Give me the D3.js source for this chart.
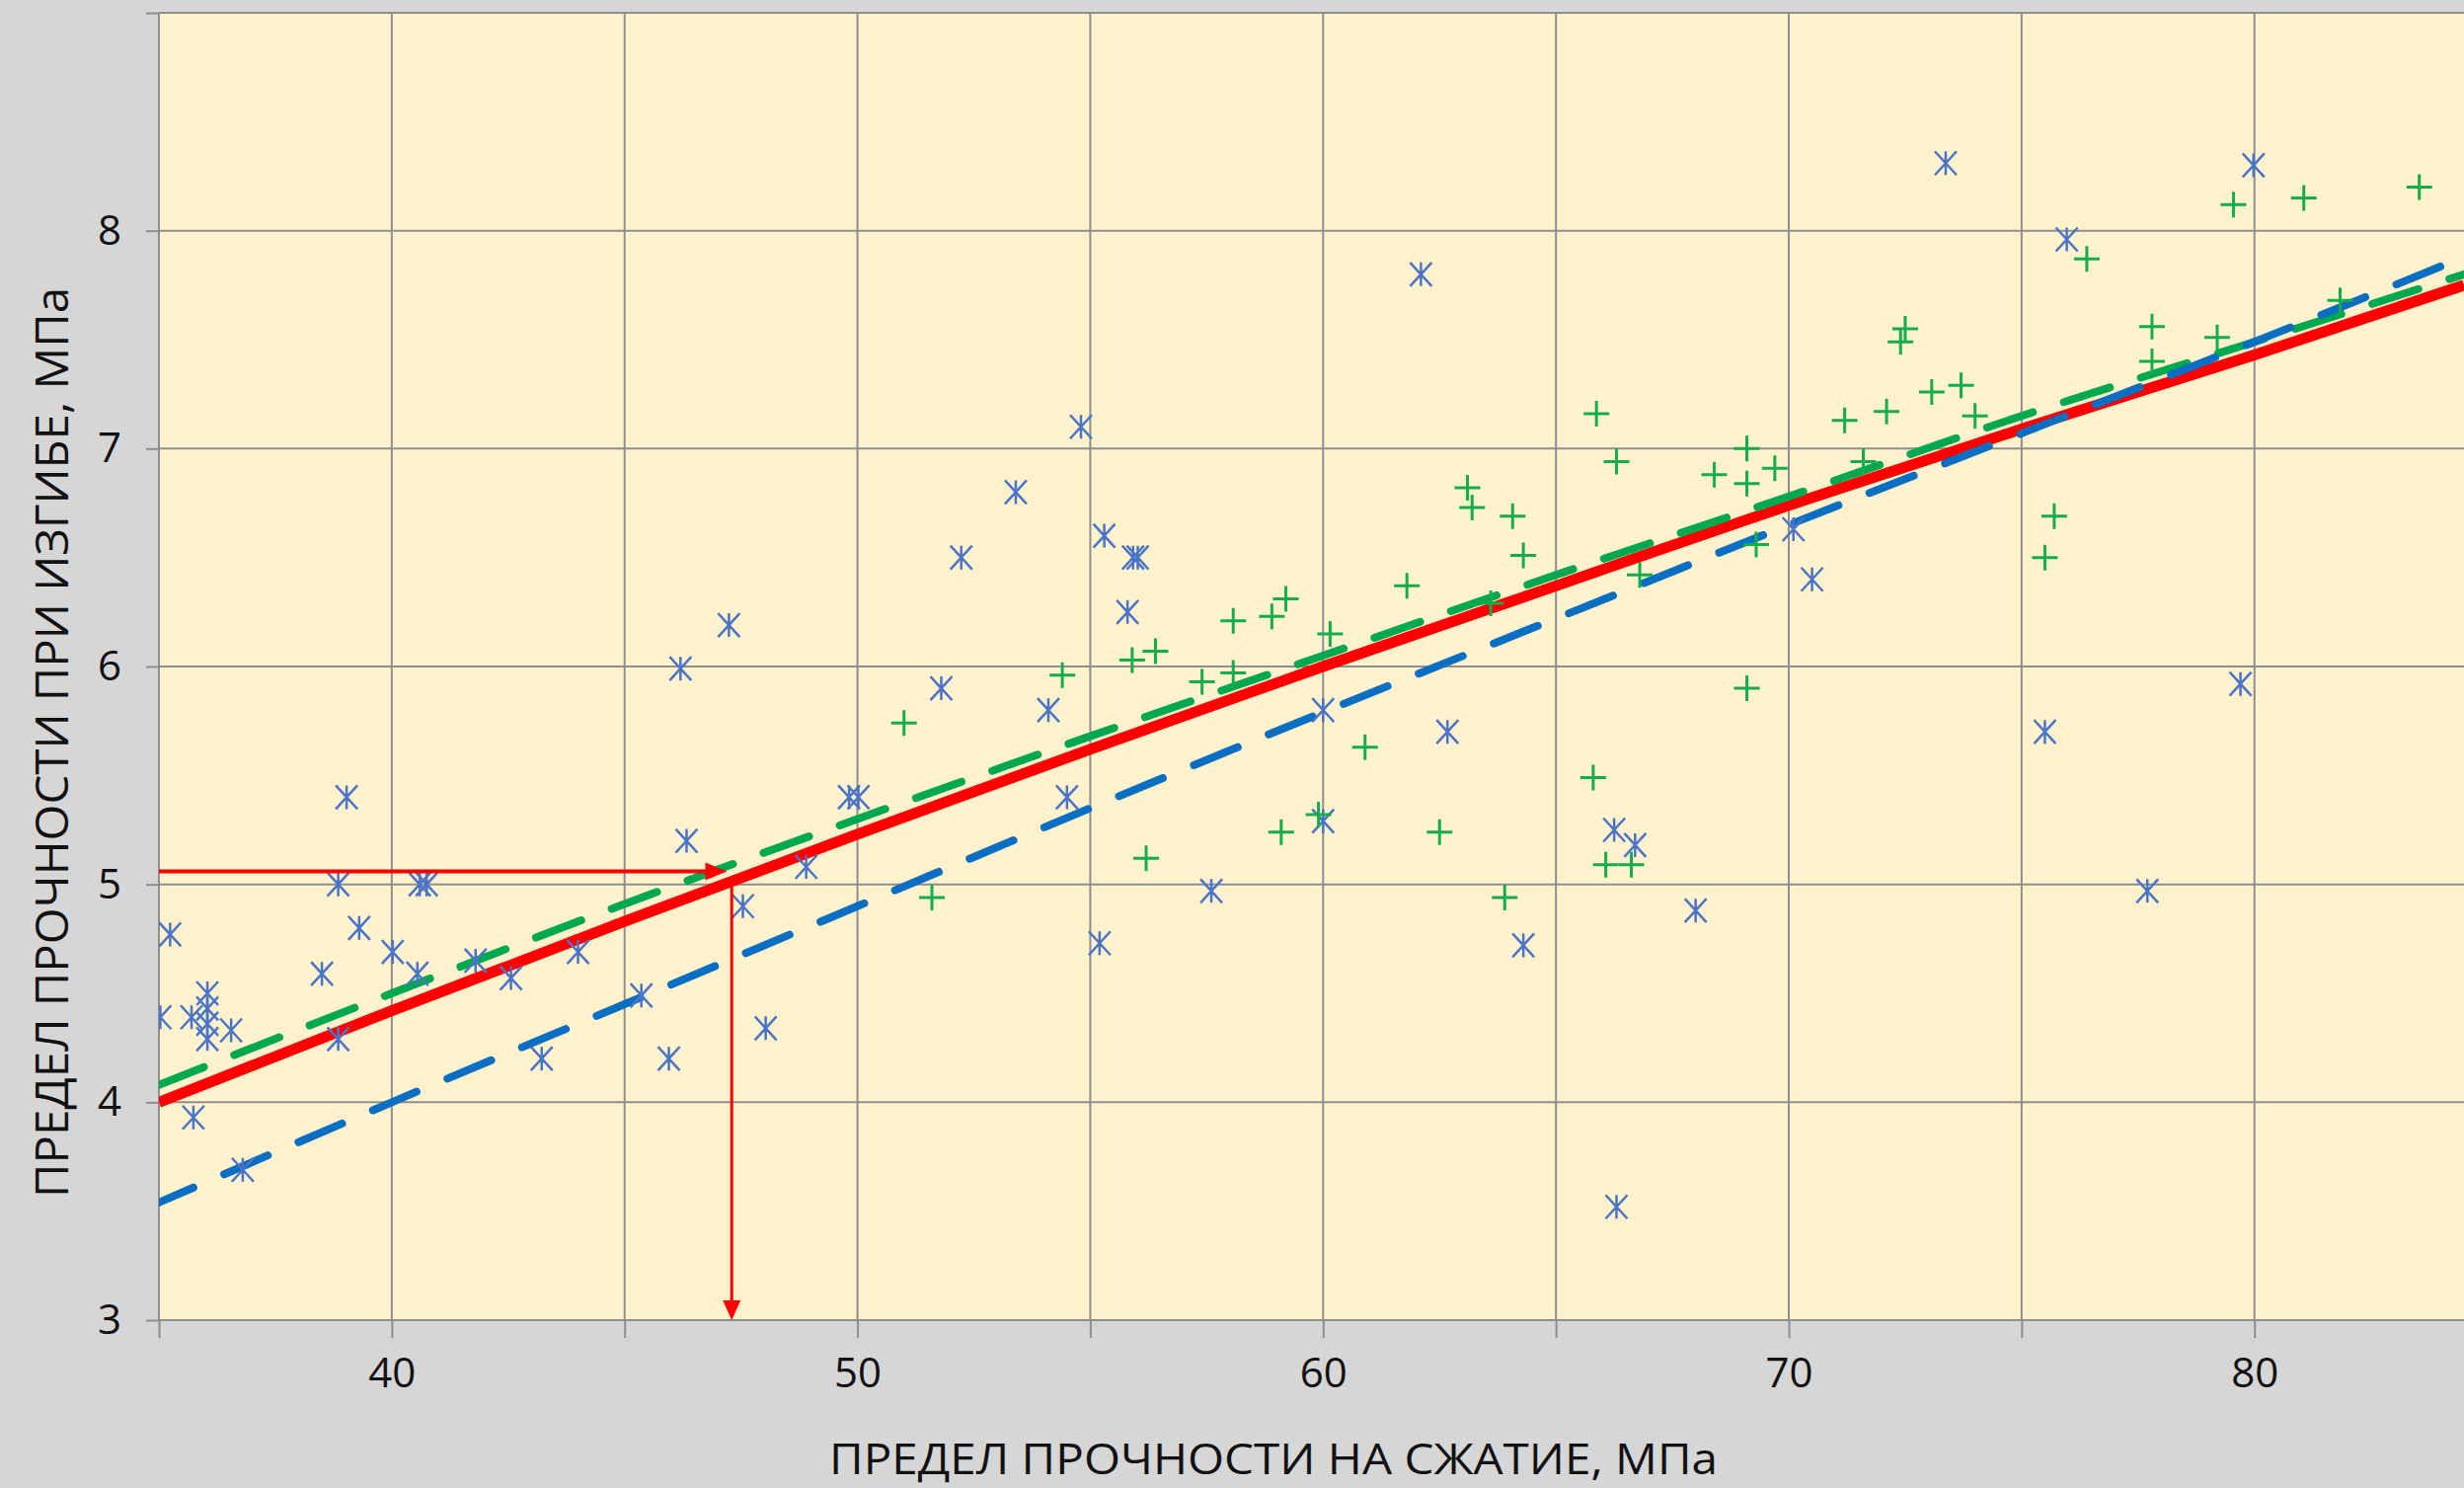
<!DOCTYPE html>
<html>
<head>
<meta charset="utf-8">
<script src="https://cdn.jsdelivr.net/npm/d3@7"></script>
<style>
  html, body { margin: 0; padding: 0; background: #d6d6d6; overflow: hidden; }
  svg { display: block; }
</style>
</head>
<body>
<svg id="chart" width="2496" height="1507"></svg>
<script>
// ---------- data ----------
const xTickValues = [35, 40, 45, 50, 55, 60, 65, 70, 75, 80];
const xTickLabels = [40, 50, 60, 70, 80];
const yTickValues = [3, 4, 5, 6, 7, 8, 9];
const yTickLabels = [3, 4, 5, 6, 7, 8];

const xTitle = "ПРЕДЕЛ ПРОЧНОСТИ НА СЖАТИЕ, МПа";
const yTitle = "ПРЕДЕЛ ПРОЧНОСТИ ПРИ ИЗГИБЕ, МПа";

// series 1 (blue asterisks)
const starX = [35.03, 35.24, 35.70, 35.74, 36.04, 36.04, 36.04, 36.04, 36.55, 36.80,
  38.50, 38.85, 38.85, 39.03, 39.30, 40.02, 40.55, 40.60, 40.75, 41.80,
  42.56, 43.22, 44.00, 45.36, 45.95, 46.20, 46.33, 47.24, 47.54, 48.03,
  48.90, 49.82, 50.02, 51.80, 52.23, 53.40, 54.10, 54.50, 54.80, 55.20,
  55.30, 55.80, 55.92, 56.02, 57.60, 60.00, 60.00, 62.10, 62.67, 64.30,
  66.25, 66.30, 66.70, 68.00, 70.10, 70.50, 73.37, 75.50, 75.97, 77.70,
  79.70, 79.98];
const starY = [4.39, 4.77, 4.39, 3.93, 4.50, 4.43, 4.36, 4.29, 4.33, 3.69,
  4.59, 5.00, 4.29, 5.40, 4.80, 4.69, 4.59, 5.00, 5.00, 4.65,
  4.57, 4.20, 4.69, 4.49, 4.20, 5.99, 5.20, 6.19, 4.90, 4.34,
  5.08, 5.40, 5.40, 5.90, 6.50, 6.80, 5.80, 5.40, 7.10, 4.73,
  6.60, 6.25, 6.50, 6.50, 4.97, 5.80, 5.29, 7.80, 5.70, 4.72,
  5.25, 3.52, 5.18, 4.88, 6.63, 6.40, 8.31, 5.70, 7.96, 4.97,
  5.92, 8.30];

// series 2 (green crosses)
const plusX = [51.00, 51.60, 54.40, 55.90, 56.20, 56.40, 57.40, 58.07, 58.07, 58.90,
  59.10, 59.20, 59.90, 60.15, 60.90, 61.80, 62.50, 63.10, 63.20, 63.60,
  63.90, 64.07, 64.30, 65.80, 65.87, 66.07, 66.30, 66.62, 66.80, 68.40,
  69.10, 69.10, 69.10, 69.30, 69.70, 71.20, 71.60, 72.10, 72.40, 72.50,
  73.07, 73.70, 74.00, 75.50, 75.70, 76.40, 77.80, 77.80, 79.20, 79.55,
  81.06, 81.84, 83.54];
const plusY = [5.74, 4.94, 5.96, 6.03, 5.12, 6.07, 5.93, 6.21, 5.97, 6.23,
  5.24, 6.31, 5.32, 6.15, 5.63, 6.37, 5.24, 6.82, 6.73, 6.29,
  4.94, 6.69, 6.51, 5.49, 7.16, 5.09, 6.94, 5.09, 6.42, 6.88,
  7.00, 6.84, 5.90, 6.56, 6.91, 7.13, 6.94, 7.17, 7.49, 7.55,
  7.26, 7.29, 7.15, 6.50, 6.69, 7.87, 7.56, 7.40, 7.51, 8.12,
  8.15, 7.68, 8.20];

// trend lines (read at these x positions)
const trendX     = [35, 40, 45, 50, 55, 60, 65, 70, 75, 80, 84.5];
const trendRed   = [4.00, 4.42, 4.83, 5.23, 5.62, 6.00, 6.37, 6.74, 7.09, 7.43, 7.75];
const trendGreen = [4.08, 4.50, 4.91, 5.30, 5.68, 6.05, 6.42, 6.78, 7.15, 7.49, 7.80];
const trendBlue  = [3.54, 4.00, 4.45, 4.90, 5.35, 5.79, 6.22, 6.65, 7.07, 7.49, 7.88];

// reading arrows
const arrowLevelY = 5.06;   // horizontal arrow level
const arrowEndX   = 47.2;   // horizontal arrow tip
const arrowX      = 47.3;   // vertical arrow position
const arrowTopY   = 5.0;    // vertical arrow start (on the red curve)

// ---------- layout ----------
const W = 2496, H = 1507;
const pL = 161, pT = 13, pR = 2496, pB = 1337;

const svg = d3.select("#chart");
const x = d3.scaleLinear().domain([35, 84.5]).range([pL, pR]);
const y = d3.scaleLinear().domain([3, 9]).range([pB, pT]);

const gridColor = "#8e8e8e";
const font = "'Open Sans', 'Noto Sans', sans-serif";

svg.append("rect").attr("x", 0).attr("y", 0).attr("width", W).attr("height", H).attr("fill", "#d6d6d6");
svg.append("rect").attr("x", pL).attr("y", pT).attr("width", pR - pL).attr("height", pB - pT).attr("fill", "#fff2cc");

// grid
svg.append("g").selectAll("line").data(xTickValues).join("line")
  .attr("x1", d => x(d)).attr("x2", d => x(d))
  .attr("y1", y(9)).attr("y2", y(3))
  .attr("stroke", gridColor).attr("stroke-width", 2);
svg.append("g").selectAll("line").data(yTickValues).join("line")
  .attr("x1", x(35)).attr("x2", pR)
  .attr("y1", d => y(d)).attr("y2", d => y(d))
  .attr("stroke", gridColor).attr("stroke-width", 2);

// axes
const xAxis = d3.axisBottom(x).tickValues(xTickValues).tickSize(18).tickPadding(20)
  .tickFormat(d => xTickLabels.includes(d) ? String(d) : "");
const gx = svg.append("g").attr("transform", `translate(0,${pB})`).call(xAxis);
gx.select(".domain").remove();
gx.selectAll(".tick line").attr("stroke", gridColor).attr("stroke-width", 2);
gx.selectAll(".tick text").attr("font-family", font).attr("font-size", 42).attr("fill", "#111");

const yAxis = d3.axisLeft(y).tickValues(yTickValues).tickSize(13).tickPadding(25)
  .tickFormat(d => yTickLabels.includes(d) ? String(d) : "");
const gy = svg.append("g").attr("transform", `translate(${pL},0)`).call(yAxis);
gy.select(".domain").remove();
gy.selectAll(".tick line").attr("stroke", gridColor).attr("stroke-width", 2);
gy.selectAll(".tick text").attr("font-family", font).attr("font-size", 42).attr("fill", "#111");

// titles
svg.append("text").text(xTitle)
  .attr("x", 1290).attr("y", 1493).attr("text-anchor", "middle")
  .attr("font-family", font).attr("font-size", 44).attr("fill", "#111")
  .attr("textLength", 900).attr("lengthAdjust", "spacingAndGlyphs");
svg.append("text").text(yTitle)
  .attr("transform", "translate(69,752) rotate(-90)").attr("text-anchor", "middle")
  .attr("font-family", font).attr("font-size", 46).attr("fill", "#111")
  .attr("textLength", 922).attr("lengthAdjust", "spacingAndGlyphs");

// trend lines
svg.append("clipPath").attr("id", "plotclip")
  .append("rect").attr("x", pL).attr("y", pT).attr("width", pR - pL).attr("height", pB - pT);
const plot = svg.append("g").attr("clip-path", "url(#plotclip)");

const line = vals => d3.line().x((d, i) => x(trendX[i])).y(d => y(d)).curve(d3.curveMonotoneX)(vals);

plot.append("path").attr("d", line(trendRed)).attr("fill", "none")
  .attr("stroke", "#ff0000").attr("stroke-width", 11);
plot.append("path").attr("d", line(trendGreen)).attr("fill", "none")
  .attr("stroke", "#00a84f").attr("stroke-width", 8).attr("stroke-linecap", "round")
  .attr("stroke-dasharray", "49,33");
plot.append("path").attr("d", line(trendBlue)).attr("fill", "none")
  .attr("stroke", "#0a6fc2").attr("stroke-width", 8).attr("stroke-linecap", "round")
  .attr("stroke-dasharray", "48,34").attr("stroke-dashoffset", 10);

// markers
const starPath = "M-11,-12L11,12M-11,12L11,-12M0,-12V12";
plot.append("g").selectAll("path").data(starX).join("path")
  .attr("transform", (d, i) => `translate(${x(d)},${y(starY[i])})`)
  .attr("d", starPath).attr("fill", "none")
  .attr("stroke", "#4a74c8").attr("stroke-width", 2.5);

const plusPath = "M-13,0H13M0,-13V13";
plot.append("g").selectAll("path").data(plusX).join("path")
  .attr("transform", (d, i) => `translate(${x(d)},${y(plusY[i])})`)
  .attr("d", plusPath).attr("fill", "none")
  .attr("stroke", "#14ad4c").attr("stroke-width", 3);

// reading arrows
const red = "#ff0000";
const ay = y(arrowLevelY), ax = x(arrowEndX);
svg.append("line").attr("x1", x(35)).attr("x2", ax - 18).attr("y1", ay).attr("y2", ay)
  .attr("stroke", red).attr("stroke-width", 4);
svg.append("path")
  .attr("d", `M${ax},${ay}L${ax - 22},${ay - 9}L${ax - 22},${ay + 9}Z`).attr("fill", red);

const vx = x(arrowX), vTop = y(arrowTopY), vBot = y(3);
svg.append("line").attr("x1", vx).attr("x2", vx).attr("y1", vTop).attr("y2", vBot - 16)
  .attr("stroke", red).attr("stroke-width", 3);
svg.append("path")
  .attr("d", `M${vx},${vBot}L${vx - 9},${vBot - 20}L${vx + 9},${vBot - 20}Z`).attr("fill", red);
</script>
</body>
</html>
